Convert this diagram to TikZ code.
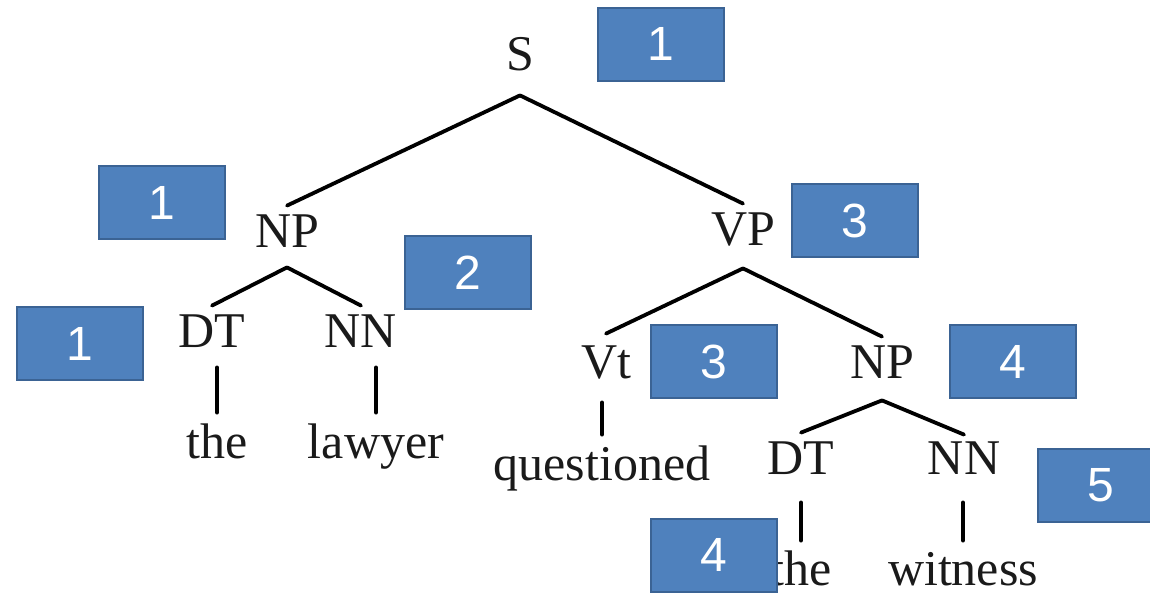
\documentclass[tikz,border=0pt]{standalone}
\usepackage{fontspec}
\setmainfont{Liberation Serif}
\newfontfamily\digitfont{Liberation Sans}
\definecolor{boxfill}{HTML}{4F81BD}
\definecolor{boxedge}{HTML}{3B6394}
\definecolor{ink}{HTML}{1A1A1A}
\begin{document}
\begin{tikzpicture}[x=0.5pt,y=-0.5pt,
  cat/.style={text=ink,font=\fontsize{25}{25}\selectfont,inner sep=0pt,
    text height=16.5pt,text depth=0pt,anchor=base},
  word/.style={text=ink,font=\fontsize{25}{25}\selectfont,inner sep=0pt,
    text height=17pt,text depth=0pt,anchor=base},
  tag/.style={rectangle,fill=boxfill,draw=boxedge,line width=1pt,
    minimum width=63pt,minimum height=36.5pt,inner sep=0pt,
    text=white,font=\digitfont\fontsize{24}{24}\selectfont},
  branch/.style={line width=1.9pt,line cap=round},
]
\useasboundingbox (0,0) rectangle (1150,594);

% constituents (positions are baselines)
\node[cat] (S)   at (520,70)  {S};
\node[cat] (NPa) at (287,247) {NP};
\node[cat] (VP)  at (743,245) {VP};
\node[cat] (DTa) at (212,347) {DT};
\node[cat] (NNa) at (361,347) {NN};
\node[cat] (Vt)  at (606,378) {Vt};
\node[cat] (NPb) at (882,378) {NP};
\node[cat] (DTb) at (801,474) {DT};
\node[cat] (NNb) at (964,474) {NN};

% words
\node[word] (the1) at (217,458) {the};
\node[word] (lawyer) at (376,458) {lawyer};
\node[word] (questioned) at (602,480) {questioned};
\node[word] (the2) at (801,585) {the};
\node[word] (witness) at (963,585) {witness};

% branches
\draw[branch] ([yshift=-12.5pt]S.south) -- ([yshift=4pt]NPa.north);
\draw[branch] ([yshift=-12.5pt]S.south) -- ([yshift=4pt]VP.north);
\draw[branch] ([yshift=-10pt]NPa.south) -- ([yshift=4pt]DTa.north);
\draw[branch] ([yshift=-10pt]NPa.south) -- ([yshift=4pt]NNa.north);
\draw[branch] ([yshift=-11.5pt]VP.south) -- ([yshift=5.5pt]Vt.north);
\draw[branch] ([yshift=-11.5pt]VP.south) -- ([yshift=4pt]NPb.north);
\draw[branch] ([yshift=-11pt]NPb.south) -- ([yshift=4pt]DTb.north);
\draw[branch] ([yshift=-11pt]NPb.south) -- ([yshift=3pt]NNb.north);

% lexical links
\draw[branch] ([yshift=-10pt]the1.north |- DTa.south) -- ([yshift=5.5pt]the1.north);
\draw[branch] ([yshift=-10pt]lawyer.north |- NNa.south) -- ([yshift=5.5pt]lawyer.north);
\draw[branch] ([yshift=-12pt]questioned.north |- Vt.south) -- ([yshift=5.5pt]questioned.north);
\draw[branch] ([yshift=-14pt]the2.north |- DTb.south) -- ([yshift=5pt]the2.north);
\draw[branch] ([yshift=-14pt]witness.north |- NNb.south) -- ([yshift=5pt]witness.north);

% count boxes
\node[tag] (cS)   at (661,44)    {1};
\node[tag] (cNPa) at (162,202.5) {1};
\node[tag] (cNNa) at (467.5,272.5) {2};
\node[tag] (cDTa) at (79.5,343.5) {1};
\node[tag] (cVP)  at (855,220.5) {3};
\node[tag] (cVt)  at (714,361.5) {3};
\node[tag] (cNPb) at (1013,361.5) {4};
\node[tag] (cNNb) at (1101,485)  {5};
\node[tag] (cDTb) at (713.5,555) {4};
\end{tikzpicture}
\end{document}
